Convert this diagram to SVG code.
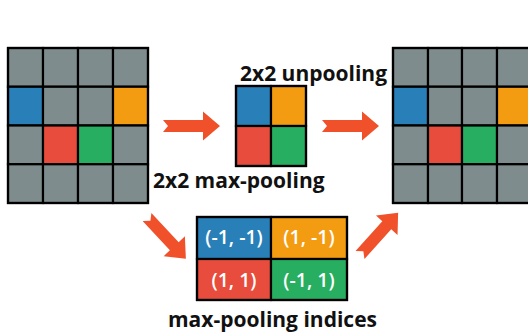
<svg xmlns="http://www.w3.org/2000/svg" width="528" height="335" viewBox="0 0 528 335">
  <style>
    .g { fill: #7f8c8d; }
    .b { fill: #2980b9; }
    .o { fill: #f39c12; }
    .r { fill: #e74c3c; }
    .n { fill: #27ae60; }
    .cell rect { stroke: #000; stroke-width: 2.2; }
    .frame { fill: none; stroke: #000; stroke-width: 2.5; }
    .lbl { font-family: "Open Sans", "Liberation Sans", sans-serif; font-weight: bold; font-size: 21px; fill: #111; }
    .idx { font-family: "Open Sans", "Liberation Sans", sans-serif; font-weight: 600; font-size: 19.5px; fill: #fff; text-anchor: middle; }
    .arrow { fill: #f0512a; }
  </style>
  <defs>
    <!-- block arrow with notched tail, tail centre at origin, pointing +x -->
    <path id="arr" d="M0,-6 L40,-6 L40,-14.5 L57,0 L40,14.5 L40,6 L0,6 L5,0 Z"/>
  </defs>
  <rect x="0" y="0" width="528" height="335" fill="#fff"/>

  <!-- 4x4 input feature map -->
  <g id="input-map" class="cell">
    <rect class="g" x="8" y="48" width="35" height="38.75"/>
    <rect class="g" x="43" y="48" width="35" height="38.75"/>
    <rect class="g" x="78" y="48" width="35" height="38.75"/>
    <rect class="g" x="113" y="48" width="35" height="38.75"/>
    <rect class="b" x="8" y="86.75" width="35" height="38.75"/>
    <rect class="g" x="43" y="86.75" width="35" height="38.75"/>
    <rect class="g" x="78" y="86.75" width="35" height="38.75"/>
    <rect class="o" x="113" y="86.75" width="35" height="38.75"/>
    <rect class="g" x="8" y="125.5" width="35" height="38.75"/>
    <rect class="r" x="43" y="125.5" width="35" height="38.75"/>
    <rect class="n" x="78" y="125.5" width="35" height="38.75"/>
    <rect class="g" x="113" y="125.5" width="35" height="38.75"/>
    <rect class="g" x="8" y="164.25" width="35" height="38.75"/>
    <rect class="g" x="43" y="164.25" width="35" height="38.75"/>
    <rect class="g" x="78" y="164.25" width="35" height="38.75"/>
    <rect class="g" x="113" y="164.25" width="35" height="38.75"/>
    <rect class="frame" x="8" y="48" width="140" height="155"/>
  </g>

  <!-- 2x2 pooled map -->
  <g id="pooled-map" class="cell">
    <rect class="b" x="236" y="86" width="35" height="40"/>
    <rect class="o" x="271" y="86" width="35" height="40"/>
    <rect class="r" x="236" y="126" width="35" height="40"/>
    <rect class="n" x="271" y="126" width="35" height="40"/>
    <rect class="frame" x="236" y="86" width="70" height="80"/>
  </g>

  <!-- 4x4 unpooled map -->
  <g id="output-map" class="cell">
    <rect class="g" x="393" y="48" width="35" height="38.75"/>
    <rect class="g" x="428" y="48" width="34" height="38.75"/>
    <rect class="g" x="462" y="48" width="35" height="38.75"/>
    <rect class="g" x="497" y="48" width="35" height="38.75"/>
    <rect class="b" x="393" y="86.75" width="35" height="38.75"/>
    <rect class="g" x="428" y="86.75" width="34" height="38.75"/>
    <rect class="g" x="462" y="86.75" width="35" height="38.75"/>
    <rect class="o" x="497" y="86.75" width="35" height="38.75"/>
    <rect class="g" x="393" y="125.5" width="35" height="38.75"/>
    <rect class="r" x="428" y="125.5" width="34" height="38.75"/>
    <rect class="n" x="462" y="125.5" width="35" height="38.75"/>
    <rect class="g" x="497" y="125.5" width="35" height="38.75"/>
    <rect class="g" x="393" y="164.25" width="35" height="38.75"/>
    <rect class="g" x="428" y="164.25" width="34" height="38.75"/>
    <rect class="g" x="462" y="164.25" width="35" height="38.75"/>
    <rect class="g" x="497" y="164.25" width="35" height="38.75"/>
    <rect class="frame" x="393" y="48" width="140" height="155"/>
  </g>

  <!-- pooling indices table -->
  <g id="indices" class="cell">
    <rect class="b" x="197" y="217" width="74" height="42"/>
    <rect class="o" x="271" y="217" width="76" height="42"/>
    <rect class="r" x="197" y="259" width="74" height="41"/>
    <rect class="n" x="271" y="259" width="76" height="41"/>
    <rect class="frame" x="197" y="217" width="150" height="83"/>
    <text class="idx" x="234" y="243.5">(-1, -1)</text>
    <text class="idx" x="309" y="243.5">(1, -1)</text>
    <text class="idx" x="234" y="286.5">(1, 1)</text>
    <text class="idx" x="309" y="286.5">(-1, 1)</text>
  </g>

  <!-- labels -->
  <g id="labels">
    <text class="lbl" x="240" y="81">2x2 unpooling</text>
    <text class="lbl" x="153" y="188">2x2 max-pooling</text>
    <text class="lbl" x="168" y="327">max-pooling indices</text>
  </g>

  <!-- connectors -->
  <g id="connectors" class="arrow">
    <use href="#arr" transform="translate(163,126)"/>
    <use href="#arr" transform="translate(322,126)"/>
    <use href="#arr" transform="translate(147,217) rotate(47)"/>
    <use href="#arr" transform="translate(360,255) rotate(-48)"/>
  </g>
</svg>
